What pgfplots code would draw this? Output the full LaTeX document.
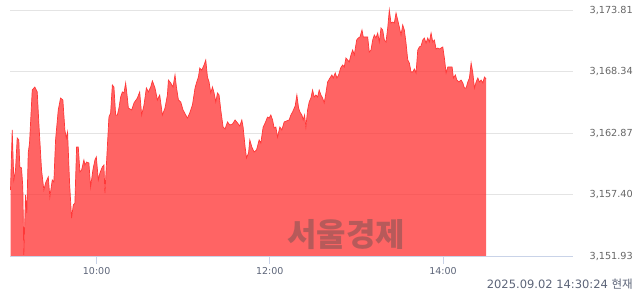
\documentclass[border=0pt]{standalone}
\usepackage{pgfplots}
\usepackage{pgfplotstable}
\pgfplotsset{compat=1.18}
\usepackage{fontspec}
\setmainfont{DejaVu Sans}
\newfontfamily\cjk{Noto Sans CJK KR}
\definecolor{fillred}{HTML}{FF3333}
\definecolor{linered}{HTML}{FF3838}
\definecolor{gridgray}{HTML}{E4E4E4}
\definecolor{axisblue}{HTML}{C9D3E8}
\definecolor{labgray}{HTML}{666666}
\definecolor{xlab}{HTML}{5C6478}
\pgfplotstableread{
t v
0.35 3157.80
1.53 3163.14
2.64 3158.69
3.82 3159.58
4.99 3162.43
6.10 3162.25
6.80 3159.85
7.98 3159.76
8.88 3158.07
9.57 3152.02
10.75 3157.36
11.65 3155.75
12.62 3161.09
13.53 3161.98
15.40 3166.69
17.20 3166.96
18.87 3166.52
19.98 3163.76
21.85 3159.58
23.45 3157.80
24.62 3158.42
26.50 3158.96
27.61 3157.18
29.27 3158.69
30.38 3158.51
31.56 3162.25
33.43 3164.92
35.03 3165.98
36.62 3165.81
38.01 3163.14
38.98 3162.43
39.88 3162.96
41.27 3158.42
42.66 3155.31
43.84 3156.47
44.95 3156.64
46.13 3161.62
47.31 3161.62
48.42 3159.40
49.60 3159.58
51.19 3160.47
51.88 3160.02
53.06 3160.29
54.66 3160.20
55.84 3158.07
57.43 3159.58
58.82 3160.47
59.79 3160.74
61.18 3158.69
62.29 3159.31
63.95 3159.85
65.06 3160.02
65.76 3157.53
67.42 3161.62
68.53 3164.29
69.71 3164.65
70.89 3167.14
72.00 3166.96
73.18 3164.47
74.36 3164.47
75.47 3165.09
76.65 3166.07
77.83 3166.52
78.94 3166.43
80.12 3167.32
81.30 3165.98
81.99 3165.09
84.28 3164.92
85.87 3165.54
88.23 3165.98
89.83 3166.52
91.21 3164.47
92.81 3165.36
94.47 3166.87
95.86 3166.52
97.46 3166.96
98.64 3167.50
100.44 3166.87
102.10 3165.81
103.70 3166.25
105.57 3164.47
107.37 3165.09
109.04 3166.25
109.73 3167.58
111.33 3167.32
112.92 3166.96
114.31 3168.03
115.28 3166.96
116.67 3165.81
118.27 3165.63
119.86 3164.92
121.73 3164.47
122.91 3164.20
124.51 3164.65
126.38 3165.36
128.18 3166.87
129.16 3167.32
130.54 3167.85
131.45 3168.65
132.83 3168.47
134.43 3168.92
135.61 3169.36
136.79 3167.85
137.90 3167.41
139.08 3166.43
140.26 3166.96
141.37 3166.43
142.55 3165.63
143.72 3166.43
144.83 3166.25
146.01 3164.92
147.61 3163.40
149.00 3163.23
150.66 3163.85
152.25 3163.58
154.13 3163.67
155.93 3164.03
157.59 3163.76
159.19 3163.49
160.58 3164.03
161.48 3163.40
162.87 3161.62
163.84 3160.65
165.23 3161.09
166.13 3162.25
167.52 3161.62
169.11 3161.18
170.78 3161.36
172.58 3162.25
173.76 3161.98
175.35 3163.40
176.74 3163.76
178.40 3164.29
179.51 3164.20
180.69 3164.47
181.87 3164.03
182.98 3163.31
184.16 3163.40
185.34 3162.51
186.94 3163.40
188.32 3163.14
189.92 3163.85
191.58 3163.94
193.39 3164.03
194.56 3164.47
195.74 3164.74
197.54 3165.27
198.72 3166.25
199.90 3165.09
200.80 3164.74
202.19 3164.47
203.09 3164.03
204.06 3164.47
204.96 3163.40
206.14 3164.92
207.25 3165.63
208.43 3165.98
209.61 3166.69
210.72 3166.07
211.90 3166.25
213.08 3166.07
214.19 3166.69
215.37 3166.25
216.55 3165.98
217.66 3165.54
218.84 3166.43
220.02 3167.41
221.61 3167.76
223.00 3168.03
223.90 3167.76
225.29 3168.21
226.47 3167.76
227.65 3168.03
229.04 3168.65
230.43 3168.92
231.54 3168.74
232.72 3169.54
233.90 3169.36
235.01 3169.19
236.19 3169.81
237.37 3170.25
238.48 3169.81
240.14 3171.14
241.25 3171.32
242.43 3171.41
243.82 3172.03
244.72 3171.41
246.11 3171.41
247.77 3171.41
248.88 3170.07
250.06 3170.25
251.24 3171.14
252.35 3171.59
253.53 3171.32
254.71 3171.76
255.82 3170.96
257.00 3172.21
258.18 3172.03
259.29 3171.14
260.47 3170.96
261.65 3172.21
262.76 3173.81
263.94 3172.65
265.12 3172.74
266.23 3172.65
267.41 3173.54
268.58 3172.92
269.69 3172.30
270.87 3171.59
272.05 3172.48
273.16 3172.03
274.34 3170.87
275.52 3169.36
276.63 3169.10
277.81 3168.30
278.99 3168.30
280.10 3168.56
281.28 3168.21
282.46 3170.25
283.57 3170.52
284.75 3170.61
285.93 3171.14
287.04 3171.32
288.21 3170.87
289.39 3171.32
290.50 3170.96
291.68 3171.76
292.86 3170.96
293.97 3171.14
295.15 3170.34
296.33 3170.43
297.44 3170.34
298.62 3170.43
299.80 3170.52
300.91 3169.54
302.09 3168.21
303.27 3168.74
304.38 3168.74
306.25 3168.74
307.15 3167.76
308.54 3168.03
309.51 3167.58
310.90 3167.41
312.49 3167.58
313.67 3167.32
314.78 3166.87
315.96 3166.87
317.14 3167.41
318.25 3167.76
319.43 3169.10
320.61 3168.21
321.72 3166.87
322.90 3167.41
324.08 3167.76
325.19 3167.41
326.37 3167.58
327.55 3167.32
328.66 3167.85
329.83 3167.67
}\kospi
\begin{document}
\begin{tikzpicture}
\path[use as bounding box] (0,0) rectangle (640pt,294pt);
\begin{axis}[
  scale only axis,
  width=563pt, height=246pt,
  at={(10pt,38pt)}, anchor=south west,
  xmin=0, xmax=390,
  ymin=3151.93, ymax=3173.81,
  xtick={60,180,300},
  xticklabels={10:00,12:00,14:00},
  xtick pos=bottom,
  ytick={3151.93,3157.40,3162.87,3168.34,3173.81},
  yticklabel pos=right,
  yticklabel style={anchor=east, inner sep=0pt, xshift=52pt,
    font=\fontsize{9.7}{11}\selectfont, text=labgray,
    /pgf/number format/.cd, fixed, fixed zerofill, precision=2,
    1000 sep={,}, assume math mode=true},
  xticklabel style={anchor=north, inner sep=0pt, yshift=-3pt,
    font=\fontsize{9.5}{11}\selectfont, text=xlab},
  axis line style={draw=none},
  tick align=outside,
  major tick length=8pt,
  xtick style={draw=axisblue, line width=0.8pt},
  ytick style={draw=none},
  ymajorgrids,
  major grid style={draw=gridgray, line width=0.8pt},
  clip=false,
]
\addplot[draw=none, fill=fillred, fill opacity=0.76] table[x=t, y=v] {\kospi} \closedcycle;
\addplot[draw=linered, line width=0.7pt, no marks] table[x=t, y=v] {\kospi};
\draw[axisblue, line width=0.8pt] (rel axis cs:0,0) -- (rel axis cs:1,0);
\end{axis}
\node[font=\cjk\bfseries\fontsize{32}{34}\selectfont, text=black!70, text opacity=0.4, inner sep=0pt] at (346pt,59pt) {서울경제};
\node[anchor=base east, inner sep=0pt, font=\fontsize{11.5}{13}\selectfont, text=xlab] at (633pt,5pt) {2025.09.02 14:30:24 {\cjk 현재}};
\end{tikzpicture}
\end{document}
